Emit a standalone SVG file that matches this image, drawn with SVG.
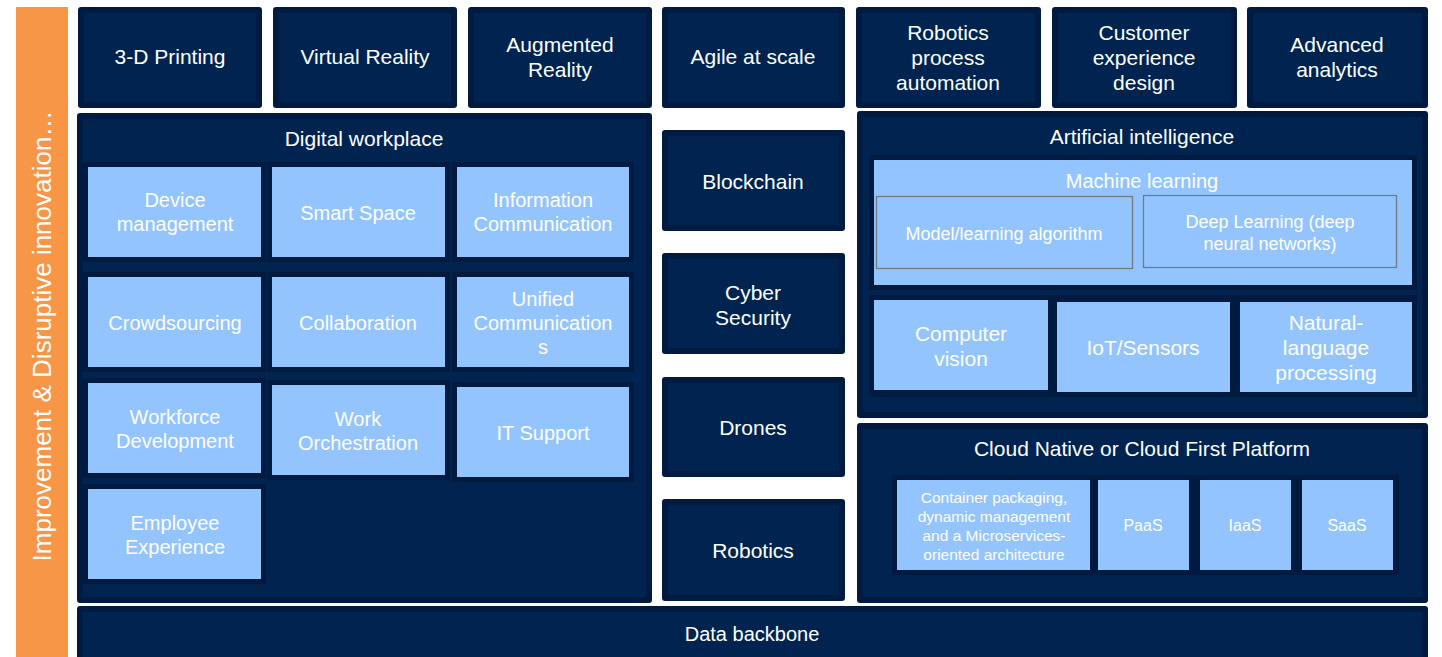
<svg xmlns="http://www.w3.org/2000/svg" width="1442" height="657" viewBox="0 0 1442 657">
<style>
.o{fill:#001b3f;}
.i{fill:#00244f;}
.f{fill:#001b3f;}
.lb{fill:#94c4fe;}
.ol{fill:none;stroke:#737a84;stroke-width:1.3;}
text{font-family:"Liberation Sans",Arial,sans-serif;fill:#ffffff;text-anchor:middle;}
.t21{font-size:21px;}
.t20{font-size:20px;}
.t18{font-size:18px;}
.t16{font-size:16px;}
.t15{font-size:15.5px;}
</style>
<rect x="0" y="0" width="1442" height="657" fill="#ffffff"/>

<g id="side-bar">
<rect x="16" y="7" width="52" height="650" fill="#f79646"/>
<text class="side" transform="translate(51,336) rotate(-90)" style="font-size:26px">Improvement &amp; Disruptive innovation…</text>
</g>

<g id="n-3d-printing">
<rect class="o" x="78" y="7" width="184" height="101" rx="3"/><rect class="i" x="84" y="13" width="172" height="89"/>
<text class="t21" x="170" y="64">3-D Printing</text>
</g>
<g id="n-virtual-reality">
<rect class="o" x="273" y="7" width="184" height="101" rx="3"/><rect class="i" x="279" y="13" width="172" height="89"/>
<text class="t21" x="365" y="64">Virtual Reality</text>
</g>
<g id="n-augmented-reality">
<rect class="o" x="468" y="7" width="184" height="101" rx="3"/><rect class="i" x="474" y="13" width="172" height="89"/>
<text class="t21" x="560" y="52">Augmented</text><text class="t21" x="560" y="77">Reality</text>
</g>
<g id="n-agile">
<rect class="o" x="662" y="7" width="183" height="101" rx="3"/><rect class="i" x="668" y="13" width="171" height="89"/>
<text class="t21" x="753" y="64">Agile at scale</text>
</g>
<g id="n-rpa">
<rect class="o" x="856" y="7" width="185" height="101" rx="3"/><rect class="i" x="862" y="13" width="173" height="89"/>
<text class="t21" x="948" y="40">Robotics</text><text class="t21" x="948" y="65">process</text><text class="t21" x="948" y="90">automation</text>
</g>
<g id="n-cx-design">
<rect class="o" x="1052" y="7" width="185" height="101" rx="3"/><rect class="i" x="1058" y="13" width="173" height="89"/>
<text class="t21" x="1144" y="40">Customer</text><text class="t21" x="1144" y="65">experience</text><text class="t21" x="1144" y="90">design</text>
</g>
<g id="n-advanced-analytics">
<rect class="o" x="1247" y="7" width="181" height="101" rx="3"/><rect class="i" x="1253" y="13" width="169" height="89"/>
<text class="t21" x="1337" y="52">Advanced</text><text class="t21" x="1337" y="77">analytics</text>
</g>

<g id="n-digital-workplace">
<rect class="o" x="77" y="113" width="575" height="490" rx="3"/><rect class="i" x="83" y="119" width="563" height="478"/>
<text class="t21" x="364" y="146">Digital workplace</text>
</g>
<g id="n-device-management">
<rect class="f" x="83" y="162" width="183" height="100"/><rect class="lb" x="88" y="167" width="173" height="90"/>
<text class="t20" x="175" y="207">Device</text><text class="t20" x="175" y="231">management</text>
</g>
<g id="n-smart-space">
<rect class="f" x="267" y="162" width="183" height="100"/><rect class="lb" x="272" y="167" width="173" height="90"/>
<text class="t20" x="358" y="220">Smart Space</text>
</g>
<g id="n-information-communication">
<rect class="f" x="452" y="162" width="182" height="100"/><rect class="lb" x="457" y="167" width="172" height="90"/>
<text class="t20" x="543" y="207">Information</text><text class="t20" x="543" y="231">Communication</text>
</g>
<g id="n-crowdsourcing">
<rect class="f" x="83" y="272" width="183" height="100"/><rect class="lb" x="88" y="277" width="173" height="90"/>
<text class="t20" x="175" y="330">Crowdsourcing</text>
</g>
<g id="n-collaboration">
<rect class="f" x="267" y="272" width="183" height="100"/><rect class="lb" x="272" y="277" width="173" height="90"/>
<text class="t20" x="358" y="330">Collaboration</text>
</g>
<g id="n-unified-communications">
<rect class="f" x="452" y="272" width="182" height="100"/><rect class="lb" x="457" y="277" width="172" height="90"/>
<text class="t20" x="543" y="306">Unified</text><text class="t20" x="543" y="330">Communication</text><text class="t20" x="543" y="354">s</text>
</g>
<g id="n-workforce-development">
<rect class="f" x="83" y="378" width="183" height="100"/><rect class="lb" x="88" y="383" width="173" height="90"/>
<text class="t20" x="175" y="424">Workforce</text><text class="t20" x="175" y="448">Development</text>
</g>
<g id="n-work-orchestration">
<rect class="f" x="267" y="380" width="183" height="100"/><rect class="lb" x="272" y="385" width="173" height="90"/>
<text class="t20" x="358" y="426">Work</text><text class="t20" x="358" y="450">Orchestration</text>
</g>
<g id="n-it-support">
<rect class="f" x="452" y="382" width="182" height="100"/><rect class="lb" x="457" y="387" width="172" height="90"/>
<text class="t20" x="543" y="440">IT Support</text>
</g>
<g id="n-employee-experience">
<rect class="f" x="83" y="484" width="183" height="100"/><rect class="lb" x="88" y="489" width="173" height="90"/>
<text class="t20" x="175" y="530">Employee</text><text class="t20" x="175" y="554">Experience</text>
</g>

<g id="n-blockchain">
<rect class="o" x="662" y="130" width="183" height="101" rx="3"/><rect class="i" x="668" y="136" width="171" height="89"/>
<text class="t21" x="753" y="189">Blockchain</text>
</g>
<g id="n-cyber-security">
<rect class="o" x="662" y="253" width="183" height="101" rx="3"/><rect class="i" x="668" y="259" width="171" height="89"/>
<text class="t21" x="753" y="300">Cyber</text><text class="t21" x="753" y="325">Security</text>
</g>
<g id="n-drones">
<rect class="o" x="662" y="377" width="183" height="100" rx="3"/><rect class="i" x="668" y="383" width="171" height="88"/>
<text class="t21" x="753" y="435">Drones</text>
</g>
<g id="n-robotics">
<rect class="o" x="662" y="499" width="183" height="102" rx="3"/><rect class="i" x="668" y="505" width="171" height="90"/>
<text class="t21" x="753" y="558">Robotics</text>
</g>

<g id="n-artificial-intelligence">
<rect class="o" x="857" y="111" width="571" height="307" rx="3"/><rect class="i" x="863" y="117" width="559" height="295"/>
<text class="t21" x="1142" y="144">Artificial intelligence</text>
</g>
<g id="n-machine-learning">
<rect class="f" x="869" y="155" width="548" height="135"/><rect class="lb" x="874" y="160" width="538" height="125"/>
<text class="t20" x="1142" y="188">Machine learning</text>
</g>
<g id="n-model-algorithm">
<rect class="ol" x="876.5" y="196.5" width="256" height="72"/>
<text class="t18" x="1004" y="240">Model/learning algorithm</text>
</g>
<g id="n-deep-learning">
<rect class="ol" x="1143.5" y="195.5" width="253" height="72"/>
<text class="t18" x="1270" y="228">Deep Learning (deep</text><text class="t18" x="1270" y="250">neural networks)</text>
</g>
<g id="n-ai-row">
<rect class="f" x="869" y="295" width="548" height="102"/>
</g>
<g id="n-computer-vision">
<rect class="lb" x="874" y="300" width="174" height="90"/>
<text class="t21" x="961" y="341">Computer</text><text class="t21" x="961" y="366">vision</text>
</g>
<g id="n-iot-sensors">
<rect class="lb" x="1057" y="302" width="173" height="90"/>
<text class="t21" x="1143" y="355">IoT/Sensors</text>
</g>
<g id="n-nlp">
<rect class="lb" x="1240" y="302" width="172" height="90"/>
<text class="t21" x="1326" y="330">Natural-</text><text class="t21" x="1326" y="355">language</text><text class="t21" x="1326" y="380">processing</text>
</g>

<g id="n-cloud-platform">
<rect class="o" x="857" y="423" width="571" height="180" rx="3"/><rect class="i" x="863" y="429" width="559" height="168"/>
<text class="t21" x="1142" y="456">Cloud Native or Cloud First Platform</text>
<rect class="f" x="892" y="475" width="507" height="100"/>
</g>
<g id="n-container">
<rect class="lb" x="897" y="480" width="193" height="90"/>
<text class="t15" x="994" y="503">Container packaging,</text><text class="t15" x="994" y="522">dynamic management</text><text class="t15" x="994" y="541">and a Microservices-</text><text class="t15" x="994" y="560">oriented architecture</text>
</g>
<g id="n-paas">
<rect class="lb" x="1098" y="480" width="91" height="90"/>
<text class="t16" x="1143" y="531">PaaS</text>
</g>
<g id="n-iaas">
<rect class="lb" x="1200" y="480" width="91" height="90"/>
<text class="t16" x="1245" y="531">IaaS</text>
</g>
<g id="n-saas">
<rect class="lb" x="1302" y="480" width="91" height="90"/>
<text class="t16" x="1347" y="531">SaaS</text>
</g>

<g id="n-data-backbone">
<rect class="o" x="77" y="606" width="1351" height="60" rx="3"/><rect class="i" x="83" y="612" width="1339" height="50"/>
<text class="t20" x="752" y="641">Data backbone</text>
</g>

<g id="connectors"></g>
</svg>
